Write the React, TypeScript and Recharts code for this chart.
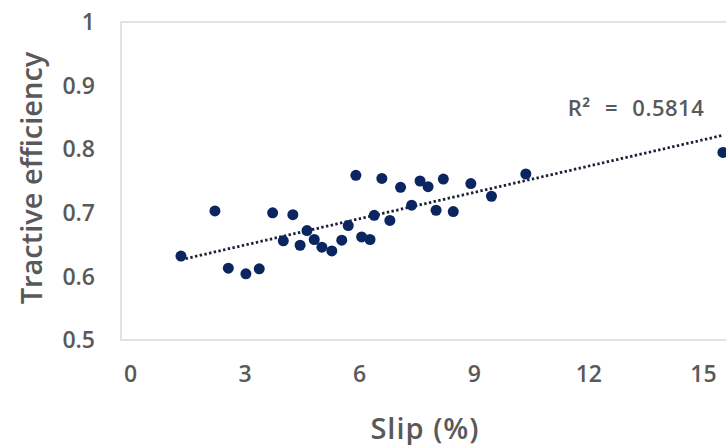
import { ScatterChart, Scatter, XAxis, YAxis, ReferenceArea } from "recharts";

// slip (%) and tractive efficiency per test run
const slip = [
  1.32, 2.21, 2.56, 3.02, 3.37, 3.72, 4.0, 4.25, 4.44, 4.62, 4.81, 5.01, 5.27, 5.53, 5.7, 5.9,
  6.05, 6.27, 6.38, 6.58, 6.79, 7.07, 7.36, 7.58, 7.79, 8.0, 8.19, 8.45, 8.91, 9.45, 10.35, 15.51,
];
const efficiency = [
  0.632, 0.703, 0.613, 0.604, 0.612, 0.7, 0.656, 0.697, 0.649, 0.672, 0.658, 0.646, 0.64, 0.657,
  0.68, 0.759, 0.662, 0.658, 0.696, 0.754, 0.688, 0.74, 0.712, 0.75, 0.741, 0.704, 0.753, 0.702,
  0.746, 0.726, 0.761, 0.795,
];
const xTicks = [0, 3, 6, 9, 12, 15];
const yTicks = [0.5, 0.6, 0.7, 0.8, 0.9, 1];
const rSquaredText = "R² = 0.5814";

const points = slip.map((x, i) => ({ x, y: efficiency[i] }));

// least-squares linear trend over the measured range
function linearTrend(xs: number[], ys: number[]) {
  const n = xs.length;
  const mx = xs.reduce((a, b) => a + b, 0) / n;
  const my = ys.reduce((a, b) => a + b, 0) / n;
  let sxy = 0;
  let sxx = 0;
  xs.forEach((x, i) => {
    sxy += (x - mx) * (ys[i] - my);
    sxx += (x - mx) * (x - mx);
  });
  const b = sxy / sxx;
  const a = my - b * mx;
  const x0 = Math.min(...xs);
  const x1 = Math.max(...xs);
  return [
    { x: x0, y: a + b * x0 },
    { x: x1, y: a + b * x1 },
  ];
}

const trend = linearTrend(slip, efficiency);

const GRAY = "#595959";
const NAVY = "#0b2560";
const FONT = "'Open Sans', 'Noto Sans', sans-serif";

const tickStyle = { fontSize: 23, fontFamily: FONT, fontWeight: 600, fill: GRAY };

export default function App() {
  return (
    <div
      style={{
        position: "absolute",
        left: 0,
        top: 0,
        width: 726,
        height: 445,
        overflow: "hidden",
        background: "#fff",
      }}
    >
      <ScatterChart width={828} height={445} margin={{ top: 22, right: 10, bottom: 0, left: 0 }}>
        <ReferenceArea
          x1={-0.25}
          x2={18}
          y1={0.5}
          y2={1}
          fill="none"
          stroke="#d9d9d9"
          strokeWidth={1.5}
          ifOverflow="visible"
        />
        <XAxis
          type="number"
          dataKey="x"
          domain={[-0.25, 18]}
          ticks={xTicks}
          allowDataOverflow
          axisLine={false}
          tickLine={false}
          tickMargin={20}
          height={105}
          tick={tickStyle}
        />
        <YAxis
          type="number"
          dataKey="y"
          domain={[0.5, 1]}
          ticks={yTicks}
          axisLine={false}
          tickLine={false}
          tickMargin={20}
          width={121}
          tick={tickStyle}
        />
        <Scatter
          data={trend}
          line={{ stroke: "#1c2235", strokeWidth: 2.8, strokeDasharray: "2.4 2.4" }}
          shape={() => <g />}
          isAnimationActive={false}
        />
        <Scatter
          data={points}
          shape={(p: any) => <circle cx={p.cx} cy={p.cy} r={5.5} fill={NAVY} />}
          isAnimationActive={false}
        />
      </ScatterChart>

      <div
        style={{
          position: "absolute",
          left: 30,
          top: 178,
          transform: "translate(-50%, -50%) rotate(-90deg)",
          whiteSpace: "nowrap",
          lineHeight: 1,
          fontFamily: FONT,
          fontWeight: 600,
          fontSize: 29,
          color: GRAY,
        }}
      >
        Tractive efficiency
      </div>
      <div
        style={{
          position: "absolute",
          left: 425,
          top: 427,
          transform: "translate(-50%, -50%)",
          whiteSpace: "nowrap",
          lineHeight: 1,
          fontFamily: FONT,
          fontWeight: 600,
          fontSize: 29,
          letterSpacing: 1,
          color: GRAY,
        }}
      >
        Slip (%)
      </div>
      <div
        style={{
          position: "absolute",
          left: 636,
          top: 107,
          transform: "translate(-50%, -50%)",
          whiteSpace: "pre",
          lineHeight: 1,
          fontFamily: FONT,
          fontWeight: 600,
          fontSize: 22,
          letterSpacing: 0.5,
          wordSpacing: 8,
          color: GRAY,
        }}
      >
        {rSquaredText}
      </div>
    </div>
  );
}
